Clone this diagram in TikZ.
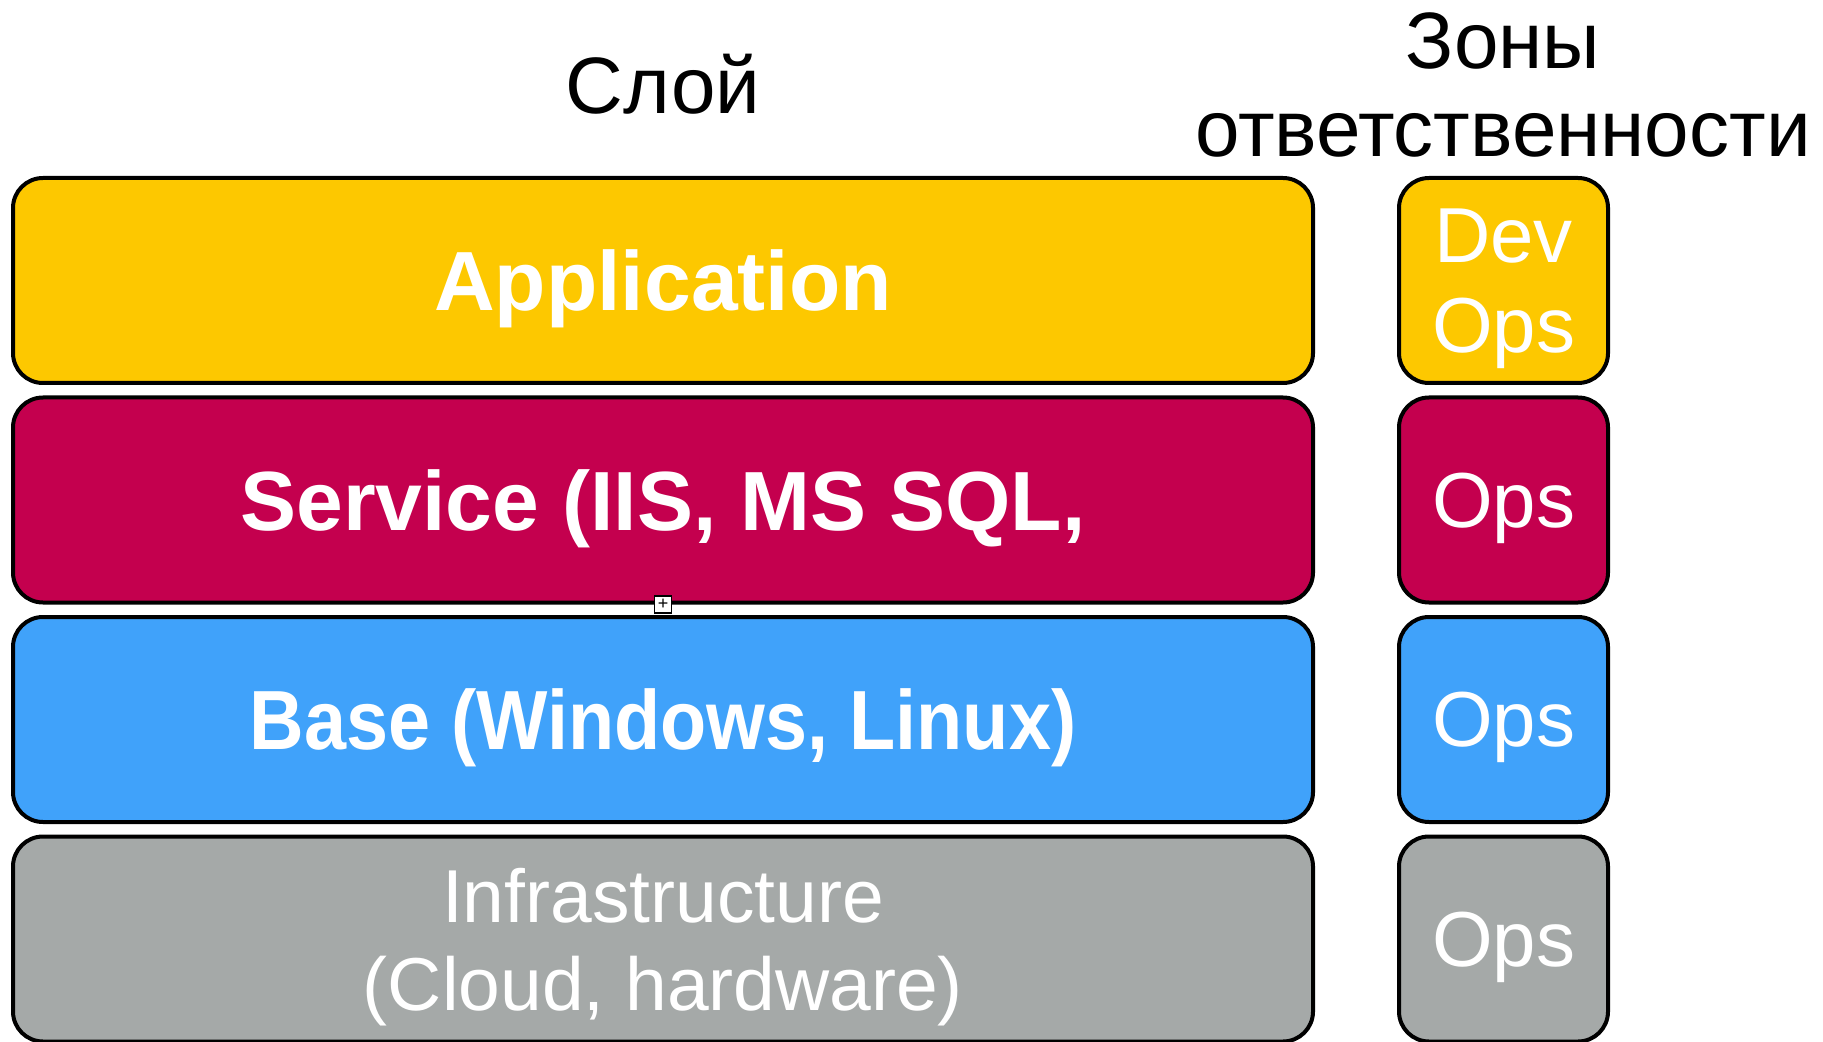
\documentclass[tikz,border=0pt]{standalone}
\usepackage{fontspec}
\setmainfont{Liberation Sans}
\usetikzlibrary{positioning}
\definecolor{appyellow}{RGB}{253,200,0}
\definecolor{svcred}{RGB}{196,0,78}
\definecolor{baseblue}{RGB}{64,162,250}
\definecolor{infragray}{RGB}{165,169,168}

\begin{document}
\begin{tikzpicture}[
    x=0.5pt, y=-0.5pt,
    node distance=5.25pt and 41pt,
    layer/.style={rectangle, rounded corners=15pt, draw=black, line width=2pt, minimum width=650pt, minimum height=102.5pt, inner sep=0pt, text depth=0pt, text=white, align=center},
    zone/.style={layer, minimum width=104.5pt, font=\fontsize{39}{45}\selectfont},
    bigbold/.style={font=\fontsize{42}{48}\selectfont\bfseries},
    plain/.style={font=\fontsize{37.5}{44}\selectfont},
    heading/.style={align=center, font=\fontsize{40}{44}\selectfont},
    overflow/.style={rectangle, draw=black, fill=white, line width=0.7pt, minimum size=8.5pt, inner sep=0pt, font=\fontsize{9}{9}\selectfont}
]
\useasboundingbox (0,0) rectangle (1823,1042);

% Layers
\node[layer, bigbold, fill=appyellow] (app) at (663,280.5) {Application};
\node[layer, bigbold, fill=svcred, below=of app] (svc) {Service (IIS, MS SQL,};
\node[layer, bigbold, fill=baseblue, below=of svc] (base) {\addfontfeature{FakeStretch=0.9}Base (Windows, Linux)};
\node[layer, plain, fill=infragray, below=of base] (infra) {Infrastructure\\(Cloud, hardware)};
\node[overflow] (more) at (svc.south) {+};

% Zones
\node[zone, fill=appyellow, right=of app] (zapp) {Dev\\Ops};
\node[zone, fill=svcred, right=of svc] (zsvc) {Ops};
\node[zone, fill=baseblue, right=of base] (zbase) {Ops};
\node[zone, fill=infragray, right=of infra] (zinfra) {Ops};

% Headings
\node[heading] (layers) at (663,84) {Слой};
\node[heading] (zones) at (1503,85) {Зоны\\ответственности};

\end{tikzpicture}
\end{document}
